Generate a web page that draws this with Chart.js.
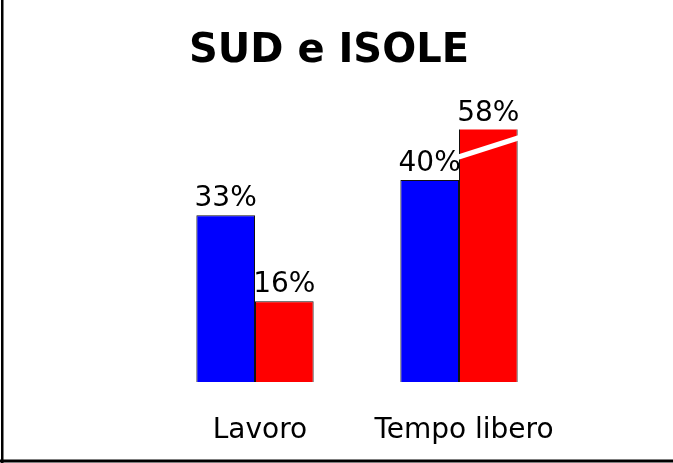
<!DOCTYPE html>
<html>
<head>
<meta charset="utf-8">
<script src="https://cdn.jsdelivr.net/npm/chart.js@4/dist/chart.umd.min.js"></script>
<style>
  html, body { margin: 0; padding: 0; background: #fff; }
  #wrap { width: 673px; height: 463px; position: relative; }
</style>
</head>
<body>
<div id="wrap"><canvas id="chart" width="673" height="463"></canvas></div>
<script>
const TITLE = 'SUD e ISOLE';
const categories = ['Lavoro', 'Tempo libero'];
const blueValues = [33, 40];
const redValues = [16, 58];
// the axis is cut at 50: bars above it get a break mark
const axisMax = 50;

const FONT = '"Comic Sans MS", "DejaVu Sans", sans-serif';

// value labels, title, broken-bar mark and the frame
const decorPlugin = {
    id: 'decor',
    afterDatasetsDraw(chart) {
        const { ctx, chartArea } = chart;
        ctx.save();
        ctx.fillStyle = '#000';
        ctx.textAlign = 'center';
        ctx.textBaseline = 'alphabetic';
        ctx.font = '28px ' + FONT;
        chart.data.datasets.forEach((ds, di) => {
            chart.getDatasetMeta(di).data.forEach((bar, i) => {
                const top = Math.max(bar.y, chartArea.top);
                if (ds.data[i] > axisMax) {
                    const left = bar.x - bar.width / 2, right = bar.x + bar.width / 2;
                    ctx.save();
                    ctx.strokeStyle = '#fff';
                    ctx.lineWidth = 5;
                    ctx.beginPath();
                    ctx.moveTo(left - 2, top + 28);
                    ctx.lineTo(right + 2, top + 8);
                    ctx.stroke();
                    ctx.restore();
                }
                ctx.fillText(ds.data[i] + '%', bar.x, top - 9);
            });
        });
        ctx.font = 'bold 40px ' + FONT;
        ctx.textBaseline = 'middle';
        ctx.fillText(TITLE, 329, 52);
        ctx.fillRect(1, 0, 2.5, 463);
        ctx.fillRect(0, 459.5, 673, 3);
        ctx.restore();
    }
};

new Chart(document.getElementById('chart').getContext('2d'), {
    type: 'bar',
    data: {
        labels: categories,
        datasets: [
            { label: 'blue', data: blueValues, backgroundColor: '#0000ff', borderColor: '#111', borderWidth: 1, clip: 0 },
            { label: 'red', data: redValues, backgroundColor: '#ff0000', borderColor: '#111', borderWidth: 1, clip: 0 },
        ]
    },
    options: {
        responsive: false,
        animation: false,
        layout: { padding: { top: 129.5, left: 153, right: 112, bottom: 14 } },
        datasets: { bar: { categoryPercentage: 0.575, barPercentage: 1.0 } },
        plugins: {
            legend: { display: false },
            tooltip: { enabled: false },
            title: { display: false },
        },
        scales: {
            x: {
                grid: { display: false },
                border: { display: false },
                ticks: { color: '#000', font: { family: FONT, size: 28 }, padding: 24, labelOffset: 5, maxRotation: 0, minRotation: 0 },
                afterFit: scale => { scale.height = 67; }
            },
            y: { display: false, min: 0, max: axisMax }
        }
    },
    plugins: [decorPlugin]
});
</script>
</body>
</html>
